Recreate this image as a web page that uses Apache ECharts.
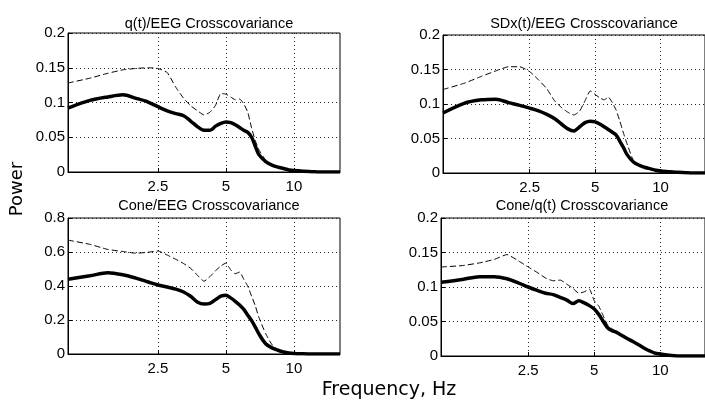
<!DOCTYPE html>
<html>
<head>
<meta charset="utf-8">
<script src="https://cdn.jsdelivr.net/npm/echarts@6/dist/echarts.min.js"></script>
<style>
  html, body { margin: 0; padding: 0; background: #fff; }
  #chart { width: 705px; height: 406px; }
</style>
</head>
<body>
<div id="chart"></div>
<script>
// Frequency grid (Hz) shared by every panel
const freqs = [1, 1.25, 1.5, 1.75, 2, 2.25, 2.5, 2.75, 3, 3.25, 3.5, 3.75, 4, 4.25, 4.5, 4.75,
  5, 5.25, 5.5, 5.75, 6, 6.25, 6.5, 6.75, 7, 7.5, 8, 8.5, 9, 9.5, 10, 11, 12, 13, 14, 15, 16];

const freqTicks = [2.5, 5, 10];

const panelTitles = ['q(t)/EEG Crosscovariance', 'SDx(t)/EEG Crosscovariance',
  'Cone/EEG Crosscovariance', 'Cone/q(t) Crosscovariance'];

const yMax = [0.2, 0.2, 0.8, 0.2];
const yStep = [0.05, 0.05, 0.2, 0.05];

// q(t)/EEG
const qEegSolid = [0.092, 0.103, 0.108, 0.111, 0.106, 0.101, 0.094, 0.088, 0.084, 0.081, 0.073, 0.065,
  0.060, 0.060, 0.066, 0.070, 0.072, 0.071, 0.068, 0.064, 0.060, 0.057, 0.050, 0.037, 0.025, 0.015,
  0.010, 0.007, 0.005, 0.003, 0.002, 0.001, 0.0005, 0, 0, 0, 0];
const qEegDashed = [0.128, 0.135, 0.142, 0.147, 0.149, 0.150, 0.149, 0.143, 0.122, 0.106, 0.095, 0.088,
  0.082, 0.086, 0.096, 0.113, 0.112, 0.108, 0.104, 0.105, 0.098, 0.086, 0.063, 0.045, 0.032, 0.017,
  0.010, 0.007, 0.005, 0.003, 0.002, 0.001, 0.0005, 0, 0, 0, 0];

// SDx(t)/EEG
const sdxEegSolid = [0.087, 0.101, 0.106, 0.107, 0.102, 0.098, 0.094, 0.090, 0.085, 0.079, 0.071, 0.064,
  0.061, 0.067, 0.073, 0.075, 0.074, 0.071, 0.067, 0.063, 0.059, 0.055, 0.046, 0.037, 0.027, 0.016,
  0.011, 0.008, 0.006, 0.004, 0.003, 0.002, 0.001, 0.0005, 0, 0, 0];
const sdxEegDashed = [0.121, 0.130, 0.140, 0.148, 0.154, 0.154, 0.147, 0.135, 0.122, 0.105, 0.095, 0.088,
  0.084, 0.090, 0.105, 0.119, 0.114, 0.109, 0.106, 0.110, 0.102, 0.091, 0.075, 0.058, 0.043, 0.018,
  0.011, 0.008, 0.006, 0.004, 0.003, 0.002, 0.001, 0.0005, 0, 0, 0];

// Cone/EEG
const coneEegSolid = [0.440, 0.460, 0.478, 0.466, 0.446, 0.425, 0.406, 0.394, 0.382, 0.365, 0.338, 0.305,
  0.294, 0.298, 0.320, 0.340, 0.346, 0.330, 0.310, 0.288, 0.262, 0.228, 0.196, 0.158, 0.118, 0.060,
  0.036, 0.022, 0.012, 0.006, 0.003, 0.001, 0, 0, 0, 0, 0];
const coneEegDashed = [0.670, 0.645, 0.615, 0.603, 0.593, 0.598, 0.606, 0.582, 0.557, 0.532, 0.503, 0.462,
  0.428, 0.455, 0.490, 0.518, 0.535, 0.495, 0.472, 0.482, 0.440, 0.398, 0.340, 0.283, 0.215, 0.120,
  0.055, 0.025, 0.012, 0.006, 0.003, 0.001, 0, 0, 0, 0, 0];

// Cone/q(t)
const coneQSolid = [0.107, 0.111, 0.115, 0.115, 0.112, 0.106, 0.100, 0.095, 0.091, 0.089, 0.085, 0.081,
  0.076, 0.080, 0.077, 0.073, 0.068, 0.060, 0.050, 0.041, 0.037, 0.035, 0.032, 0.029, 0.026, 0.021,
  0.016, 0.011, 0.007, 0.004, 0.003, 0.001, 0, 0, 0, 0, 0];
const coneQDashed = [0.129, 0.131, 0.135, 0.140, 0.147, 0.138, 0.129, 0.121, 0.113, 0.109, 0.110, 0.104,
  0.098, 0.091, 0.093, 0.097, 0.080, 0.072, 0.058, 0.045, 0.040, 0.036, 0.033, 0.029, 0.026, 0.021,
  0.016, 0.011, 0.007, 0.004, 0.003, 0.001, 0, 0, 0, 0, 0];

const solidSeries = [qEegSolid, sdxEegSolid, coneEegSolid, coneQSolid];
const dashedSeries = [qEegDashed, sdxEegDashed, coneEegDashed, coneQDashed];

// Panel placement (pixels); the right-hand panels run past the canvas edge
const gridBoxes = [
  { left: 68, top: 33, width: 272, height: 139 },
  { left: 443, top: 35, width: 272, height: 138 },
  { left: 68, top: 218, width: 272, height: 136 },
  { left: 441, top: 218, width: 272, height: 138 }
];

const labelFont = '"Liberation Sans", Arial, sans-serif';
const pair = vals => freqs.map((f, i) => [f, vals[i]]);

const grids = [], xAxes = [], yAxes = [], series = [], titles = [];
gridBoxes.forEach((g, i) => {
  grids.push(Object.assign({ show: true, borderColor: '#000', borderWidth: 1, backgroundColor: '#fff' }, g));
  xAxes.push({
    type: 'log', logBase: 2, gridIndex: i, min: 1, max: 16,
    axisLine: { lineStyle: { color: '#000', width: 1 } },
    axisTick: { show: true, inside: true, length: 4, customValues: freqTicks, lineStyle: { color: '#000' } },
    axisLabel: { customValues: freqTicks, color: '#000', fontSize: 15, fontFamily: labelFont, margin: 7,
      formatter: v => String(v) },
    splitLine: { show: true, lineStyle: { color: '#222', type: [1, 3], width: 1 } }
  });
  yAxes.push({
    type: 'value', gridIndex: i, min: 0, max: yMax[i], interval: yStep[i],
    axisLine: { show: true, lineStyle: { color: '#000', width: 1 } },
    axisTick: { show: true, inside: true, length: 4, lineStyle: { color: '#000' } },
    axisLabel: { color: '#000', fontSize: 15, fontFamily: labelFont, margin: 3 },
    splitLine: { show: true, lineStyle: { color: '#222', type: [1, 3], width: 1 } }
  });
  series.push({
    type: 'line', xAxisIndex: i, yAxisIndex: i, data: pair(dashedSeries[i]),
    showSymbol: false, smooth: 0.15, silent: true,
    lineStyle: { color: '#000', width: 1, type: [6, 3] }
  });
  series.push({
    type: 'line', xAxisIndex: i, yAxisIndex: i, data: pair(solidSeries[i]),
    showSymbol: false, smooth: 0.3, silent: true,
    lineStyle: { color: '#000', width: 3.5 }
  });
  titles.push({
    text: panelTitles[i],
    left: g.left + 136, top: i < 2 ? 11 : 193, textAlign: 'center',
    textStyle: { fontSize: 14.5, fontWeight: 'normal', color: '#000', fontFamily: labelFont }
  });
});

const chart = echarts.init(document.getElementById('chart'), null, { renderer: 'canvas' });
chart.setOption({
  backgroundColor: '#fff',
  animation: false,
  title: titles,
  grid: grids,
  xAxis: xAxes,
  yAxis: yAxes,
  series: series,
  graphic: [
    {
      type: 'text', x: 17, y: 189, rotation: Math.PI / 2,
      style: { text: 'Power', fill: '#000', font: '18px "DejaVu Sans", Verdana, sans-serif',
        textAlign: 'center', textVerticalAlign: 'middle' }
    },
    {
      type: 'text', x: 389, y: 390,
      style: { text: 'Frequency, Hz', fill: '#000', font: '19px "DejaVu Sans", Verdana, sans-serif',
        textAlign: 'center', textVerticalAlign: 'middle' }
    }
  ]
});
</script>
</body>
</html>
